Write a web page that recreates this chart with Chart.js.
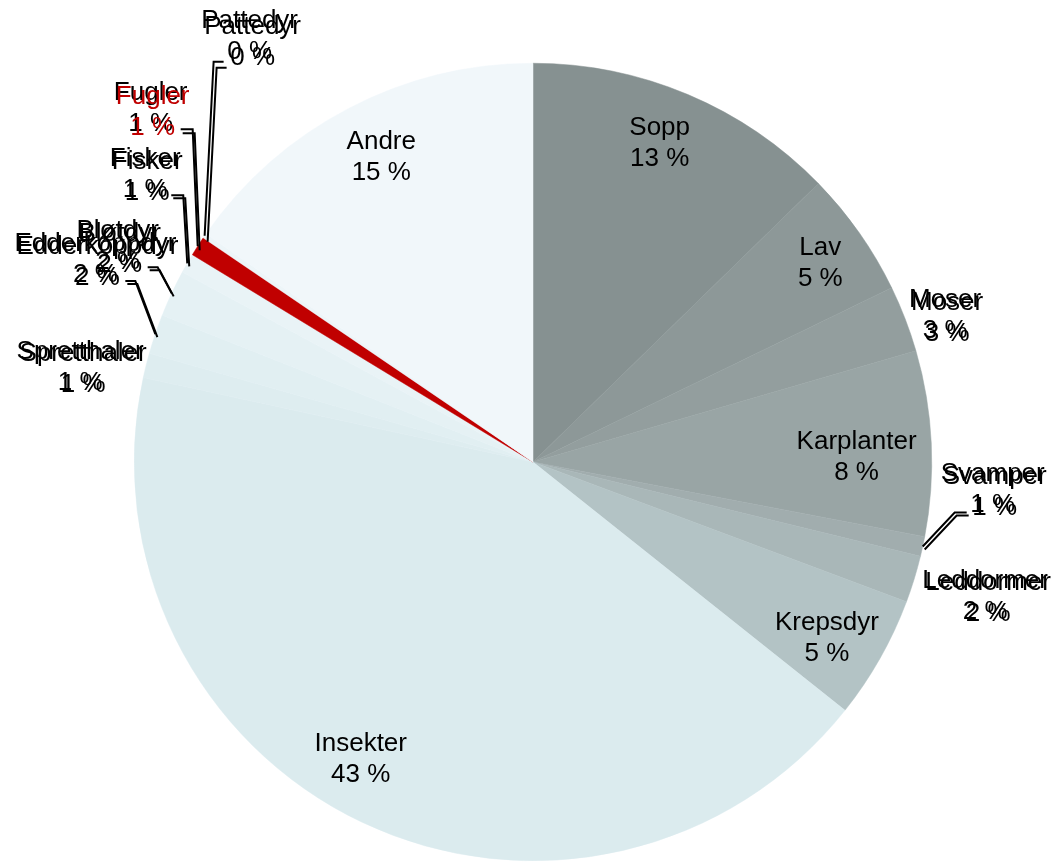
<!DOCTYPE html>
<html><head><meta charset="utf-8">
<script src="https://cdn.jsdelivr.net/npm/chart.js@4/dist/chart.umd.min.js"></script>
<style>html,body{margin:0;padding:0;background:#fff;overflow:hidden}canvas{display:block}</style>
</head><body>
<canvas id="c" width="1055" height="862"></canvas>
<script>
const categories = ['Sopp','Lav','Moser','Karplanter','Svamper','Leddormer','Krepsdyr','Insekter','Spretthaler','Edderkoppdyr','Bløtdyr','Fisker','Fugler','Pattedyr','Andre'];
const shares = [12.7, 5.1, 2.7, 7.5, 0.8, 1.9, 5.0, 42.7, 1.0, 1.6, 1.9, 0.8, 0.8, 0.2, 15.3];
const sliceColors = ['#869191','#8d9898','#939e9e','#99a5a5','#a1adae','#a9b7b8','#b3c3c5','#dbebee','#deedf0','#e1eff2','#e5f1f4','#e9f3f6','#c00000','#edf5f8','#f1f7fa'];
const textColors = ['#000','#000','#000','#000','#000','#000','#000','#000','#000','#000','#000','#000','#c00000','#000','#000'];

// label placement (relative to the slice's mid-angle point)
const labelLayout = {
  'Sopp':        {inside:true, nudge:[-5,-6]},
  'Lav':         {inside:true, nudge:[10,-4]},
  'Moser':       {at:[40,-3], dup:[2,3]},
  'Karplanter':  {inside:true, nudge:[-15,11]},
  'Svamper':     {at:[70,-57], leader:[[32,-34],[44,-34]], dup:[2,3]},
  'Leddormer':   {at:[71,17], dup:[3,2]},
  'Krepsdyr':    {inside:true, nudge:[-1,9]},
  'Insekter':    {inside:true, nudge:[-27,-9]},
  'Spretthaler': {at:[-66,2], dup:[3,2]},
  'Edderkoppdyr':{at:[-60,-75], leader:[[-20,-53],[-30,-53]], dup:[2,3]},
  'Bløtdyr':     {at:[-54,-47], leader:[[-14,-26],[-24,-26]], dup:[2,3]},
  'Fisker':      {at:[-42,-89], leader:[[-4,-68],[-16,-68]], dup:[2,3]},
  'Fugler':      {at:[-47,-138], leader:[[-5,-117],[-17,-117]], dup:[2,4]},
  'Pattedyr':    {at:[45,-199], leader:[[9,-174],[19,-174]], dup:[3,6]},
  'Andre':       {inside:true, nudge:[5,-4]}
};

const labelPlugin = {
  id: 'sliceLabels',
  afterDatasetsDraw(chart) {
    const ctx = chart.ctx;
    const meta = chart.getDatasetMeta(0);
    ctx.save();
    ctx.font = '26px "Liberation Sans", Arial, sans-serif';
    ctx.textAlign = 'center';
    ctx.textBaseline = 'middle';
    meta.data.forEach((arc, i) => {
      const name = categories[i];
      const L = labelLayout[name];
      const p = arc.getProps(['x','y','startAngle','endAngle','outerRadius'], true);
      const mid = (p.startAngle + p.endAngle) / 2;
      const R = p.outerRadius;
      const ex = p.x + R * Math.cos(mid), ey = p.y + R * Math.sin(mid);
      const lines = [name, Math.round(shares[i]) + ' %'];
      let px, py;
      if (L.inside) {
        px = p.x + 0.85 * R * Math.cos(mid) + L.nudge[0];
        py = p.y + 0.85 * R * Math.sin(mid) + L.nudge[1];
      } else {
        px = ex + L.at[0];
        py = ey + L.at[1];
      }
      const copies = L.dup ? [[0,0,'#000'],[L.dup[0],L.dup[1],textColors[i]]] : [[0,0,textColors[i]]];
      copies.forEach(([ox, oy, col]) => {
        if (L.leader) {
          ctx.beginPath();
          ctx.moveTo(ex + ox, ey + oy);
          L.leader.forEach(q => ctx.lineTo(ex + q[0] + ox, ey + q[1] + oy));
          ctx.strokeStyle = '#000';
          ctx.lineWidth = 2;
          ctx.stroke();
        }
        ctx.fillStyle = col;
        ctx.fillText(lines[0], px + ox, py + oy - 15.5);
        ctx.fillText(lines[1], px + ox, py + oy + 15.5);
      });
    });
    ctx.restore();
  }
};

new Chart(document.getElementById('c'), {
  type: 'pie',
  data: {
    labels: categories,
    datasets: [{
      data: shares,
      backgroundColor: sliceColors,
      borderColor: sliceColors,
      borderWidth: 0.5,
      hoverOffset: 0,
      offset: 0
    }]
  },
  options: {
    responsive: false,
    animation: false,
    events: [],
    layout: {padding: {left: 134, right: 123, top: 63, bottom: 1}},
    plugins: {legend: {display: false}, tooltip: {enabled: false}}
  },
  plugins: [labelPlugin]
});
</script>
</body></html>
